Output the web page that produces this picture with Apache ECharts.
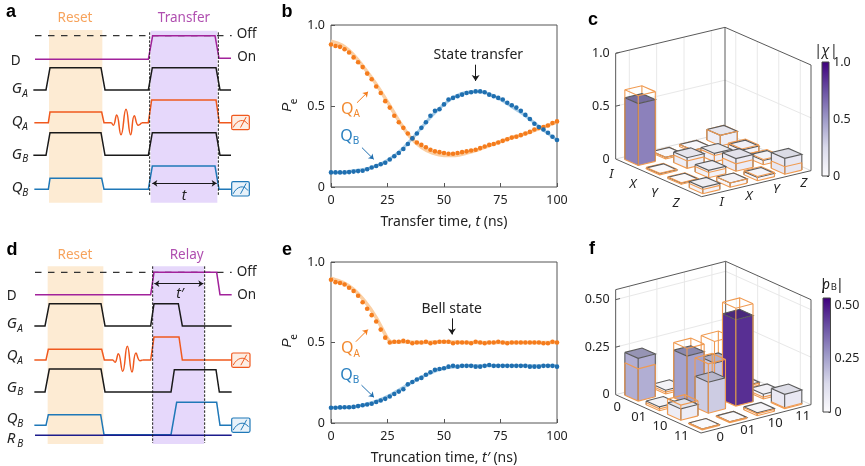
<!DOCTYPE html>
<html><head><meta charset="utf-8">
<style>html,body{margin:0;padding:0;background:#fff}#c{width:865px;height:466px}</style>
<script src="https://cdn.jsdelivr.net/npm/echarts@6/dist/echarts.min.js"></script>
</head><body><div id="c"></div>
<script>
var FONT='"Noto Sans",sans-serif';
var tNs=[0,2,4,6,8,10,12,14,16,18,20,22,24,26,28,30,32,34,36,38,40,42,44,46,48,50,52,54,56,58,60,62,64,66,68,70,72,74,76,78,80,82,84,86,88,90,92,94,96,98,100];
var bQA=[.88,.87,.865,.85,.83,.80,.77,.74,.70,.665,.62,.58,.53,.49,.44,.40,.365,.33,.30,.275,.26,.245,.23,.22,.215,.21,.205,.205,.21,.215,.22,.225,.23,.24,.25,.26,.265,.275,.285,.295,.305,.31,.32,.33,.34,.355,.365,.37,.38,.395,.405];
var bQB=[.09,.09,.09,.09,.092,.095,.098,.10,.11,.12,.13,.14,.15,.17,.19,.21,.235,.265,.30,.33,.365,.40,.44,.47,.48,.51,.54,.55,.56,.57,.58,.585,.59,.59,.585,.57,.56,.55,.54,.52,.505,.49,.47,.445,.42,.39,.37,.355,.335,.31,.29];
var eQA=[.89,.875,.87,.86,.84,.82,.79,.75,.71,.67,.63,.58,.53,.50,.505,.505,.51,.505,.495,.50,.50,.505,.495,.50,.505,.505,.505,.495,.50,.50,.50,.495,.505,.50,.495,.50,.50,.505,.50,.495,.50,.50,.50,.50,.50,.50,.50,.495,.495,.505,.50];
var eQB=[.095,.095,.097,.098,.098,.10,.105,.11,.115,.12,.13,.14,.15,.165,.18,.195,.21,.24,.255,.27,.28,.30,.315,.33,.335,.34,.35,.355,.35,.355,.355,.355,.35,.35,.355,.36,.355,.355,.355,.355,.355,.355,.355,.355,.35,.35,.35,.355,.355,.355,.35];
var fitBT=[0,5,10,15,20,25,30,35,40,45,50,55,60,65,70,75,80,85,90,95,100];
var fitBQA=[.90,.875,.815,.73,.635,.525,.41,.31,.245,.21,.195,.195,.21,.23,.255,.28,.305,.325,.35,.375,.40];
var fitBQB=[.09,.09,.10,.11,.13,.165,.215,.285,.365,.445,.51,.56,.585,.59,.575,.54,.495,.45,.395,.34,.29];
var fitET=[0,5,10,15,20,25,27,30,40,50,60,70,80,90,100];
var fitEQA=[.90,.875,.83,.755,.655,.525,.50,.505,.50,.505,.50,.50,.50,.50,.50];
var fitEQB=[.095,.097,.10,.115,.135,.165,.18,.205,.285,.34,.355,.355,.355,.355,.355];

var axisCats=['I','X','Y','Z'];
var rhoCats=['0','01','10','11'];
var chiMeasured=[[.585,.015,.02,.10],[.01,.10,.08,.05],[.01,.07,.12,.04],[.06,.04,.03,.15]];
var chiIdeal=[[.66,.015,.02,.10],[.015,.07,.06,.06],[.015,.05,.07,.05],[.04,.04,.04,.07]];
var rhoMeasured=[[.225,.02,.015,.01],[.02,.25,.175,.015],[.06,.163,.455,.025],[.005,.005,.015,.075]];
var rhoIdeal=[[.17,.01,.01,.01],[.01,.29,.29,.01],[.08,.26,.515,.01],[.005,.005,.01,.005]];
var purples=['#fcfbfd','#dadaeb','#9e9ac8','#6a51a3','#3f007d'];

// pulse traces, in schematic units
var aOff=[[105,107],[695,107]];
var aD=[[105,178],[445,178],[458,107],[645,107],[657,175],[693,175]];
var aGA=[[100,270],[138,270],[150,203],[303,203],[315,270],[445,270],[457,203],[648,203],[660,270],[693,270]];
var aQA=[[103,368],[145,368],[150,336],[305,336],[312,368],[335,368]];
var aQA2=[[425,368],[445,368],[455,300],[648,300],[658,368],[693,368]];
var aWig=[[335,368],[340,376],[350,345],[363,404],[378,328],[392,404],[403,347],[415,376],[425,368]];
var aGB=[[100,466],[138,466],[150,398],[303,398],[315,466],[445,466],[457,398],[648,398],[660,466],[693,466]];
var aQB=[[103,568],[145,568],[150,535],[305,535],[312,568],[445,568],[457,498],[645,498],[657,568],[693,568]];
var dOff=[[105,118],[695,118]];
var dD=[[105,185],[452,185],[462,118],[650,118],[660,185],[695,185]];
var dGA=[[103,279],[135,279],[148,212],[303,212],[315,279],[452,279],[462,212],[535,212],[547,279],[695,279]];
var dQA=[[103,381],[138,381],[145,349],[305,349],[313,381],[340,381]];
var dQA2=[[428,381],[452,381],[462,312],[537,312],[547,381],[695,381]];
var dWig=[[340,381],[345,388],[355,362],[368,415],[382,340],[396,417],[408,360],[420,383],[428,381]];
var dGB=[[103,477],[135,477],[148,408],[303,408],[315,477],[513,477],[523,410],[648,410],[658,477],[695,477]];
var dQB=[[103,577],[138,577],[145,545],[302,545],[312,605],[513,605],[530,508],[650,508],[660,577],[695,577]];
var dRB=[[105,607],[695,607]];

var C={black:'#1a1a1a',purple:'#a2229b',qa:'#f0591e',qb:'#1f78b8',orange:'#f57c1c',blue:'#1f6fb0',navy:'#1c1c8c',frame:'#5a5a5a',grid:'#e8e8e8',ideal:'#f09a50',txt:'#222'};

var series=[];
function rectS(g,x0,y0,x1,y1,color){series.push({type:'custom',xAxisIndex:g,yAxisIndex:g,z:1,silent:true,data:[[x0,y0,x1,y1]],renderItem:function(p,api){var a=api.coord([api.value(0),api.value(1)]),b=api.coord([api.value(2),api.value(3)]);return{type:'rect',shape:{x:a[0],y:a[1],width:b[0]-a[0],height:b[1]-a[1]},style:{fill:color}}}})}
function lineS(g,data,color,w,opt){opt=opt||{};series.push({type:'line',xAxisIndex:g,yAxisIndex:g,z:opt.z||3,silent:true,showSymbol:false,symbol:'none',smooth:opt.smooth||false,data:data,lineStyle:{color:color,width:w,type:opt.type||'solid',cap:'butt',join:'miter'}})}
function arrowS(g,p,q,color,both,size){series.push({type:'line',xAxisIndex:g,yAxisIndex:g,z:6,silent:true,symbol:'none',data:[],markLine:{silent:true,animation:false,symbol:[both?'arrow':'none','arrow'],symbolSize:size||6,label:{show:false},lineStyle:{color:color,width:1,type:'solid'},data:[[{coord:p},{coord:q}]]}})}
function iconS(g,x,y,w,h,color,fill){series.push({type:'custom',xAxisIndex:g,yAxisIndex:g,z:5,silent:true,data:[[x,y,w,h]],renderItem:function(p,api){var X=api.value(0),Y=api.value(1),W=api.value(2),H=api.value(3);var c=function(u,v){return api.coord([X+u*W,Y+v*H])};var a=c(0,0),b=c(1,1),p0=c(.08,.85),p1=c(.3,.3),p2=c(.7,.2),p3=c(.92,.62),n0=c(.5,.85),n1=c(.82,.12);return{type:'group',children:[{type:'rect',shape:{x:a[0],y:a[1],width:b[0]-a[0],height:b[1]-a[1],r:1.5},style:{fill:fill,stroke:color,lineWidth:1.2}},{type:'bezierCurve',shape:{x1:p0[0],y1:p0[1],cpx1:p1[0],cpy1:p1[1],cpx2:p2[0],cpy2:p2[1],x2:p3[0],y2:p3[1]},style:{fill:'none',stroke:color,lineWidth:1}},{type:'line',shape:{x1:n0[0],y1:n0[1],x2:n1[0],y2:n1[1]},style:{stroke:color,lineWidth:1}}]}}})}

// panel a
rectS(0,147,90,307,608,'#fdebd3');rectS(0,452,92,652,608,'#e6d8fb');
lineS(0,aOff,'#333',1.2,{type:[6.5,6.5]});
lineS(0,aD,C.purple,1.5);lineS(0,aGA,C.black,1.5);lineS(0,aQA,C.qa,1.5);lineS(0,aQA2,C.qa,1.5);lineS(0,aWig,C.qa,1.5,{smooth:.5});lineS(0,aGB,C.black,1.5);lineS(0,aQB,C.qb,1.5);
lineS(0,[[449,97],[449,585]],C.black,1,{type:[2.5,1.5],z:4});lineS(0,[[655,97],[655,585]],C.black,1,{type:[2.5,1.5],z:4});
arrowS(0,[457,550],[650,550],C.black,true,5);
iconS(0,695,346,53,43,C.qa,'#fdeee4');iconS(0,695,545,53,43,C.qb,'#e8f2fa');
// panel d
rectS(1,143,100,310,633,'#fdebd3');rectS(1,458,100,612,633,'#e6d8fb');
lineS(1,dOff,'#333',1.2,{type:[6.5,6.5]});
lineS(1,dD,C.purple,1.5);lineS(1,dGA,C.black,1.5);lineS(1,dQA,C.qa,1.5);lineS(1,dQA2,C.qa,1.5);lineS(1,dWig,C.qa,1.5,{smooth:.5});lineS(1,dGB,C.black,1.5);lineS(1,dQB,C.qb,1.5);lineS(1,dRB,C.navy,1.5);
lineS(1,[[458,100],[458,630]],C.black,1,{type:[2.5,1.5],z:4});lineS(1,[[614,100],[614,630]],C.black,1,{type:[2.5,1.5],z:4});
arrowS(1,[463,152],[610,152],C.black,true,5);
iconS(1,695,360,55,43,C.qa,'#fdeee4');iconS(1,695,555,55,43,C.qb,'#e8f2fa');

function zip(x,y){return x.map(function(v,i){return[v,y[i]]})}
function dots(g,data,color){series.push({type:'scatter',xAxisIndex:g,yAxisIndex:g,z:4,silent:true,symbolSize:4.6,data:data,itemStyle:{color:color,opacity:1}})}
lineS(2,zip(fitBT,fitBQA),'#fbcfa3',3.5,{smooth:.4});lineS(2,zip(fitBT,fitBQB),'#a9cde6',3,{smooth:.4});
dots(2,zip(tNs,bQA),C.orange);dots(2,zip(tNs,bQB),C.blue);
arrowS(2,[11.5,.52],[16.4,.588],C.orange,false,5);arrowS(2,[13.7,.243],[18.9,.171],C.blue,false,5);arrowS(2,[64,.755],[64,.655],C.black,false,6);
lineS(3,zip(fitET,fitEQA),'#fbcfa3',3.5,{smooth:.2});lineS(3,zip(fitET,fitEQB),'#a9cde6',3,{smooth:.2});
dots(3,zip(tNs,eQA),C.orange);dots(3,zip(tNs,eQB),C.blue);
arrowS(3,[11,.505],[16.3,.58],C.orange,false,5);arrowS(3,[13.5,.235],[19,.16],C.blue,false,5);arrowS(3,[53.5,.65],[53.5,.55],C.black,false,6);

// colour bars
function gradient(){return new echarts.graphic.LinearGradient(0,1,0,0,purples.map(function(c,i){return{offset:i/4,color:c}}))}
var cbC=[1],cbF=[.533];
series.push({type:'bar',xAxisIndex:4,yAxisIndex:4,barWidth:'100%',silent:true,data:cbC,itemStyle:{color:gradient()}});
series.push({type:'bar',xAxisIndex:5,yAxisIndex:5,barWidth:'100%',silent:true,data:cbF,itemStyle:{color:gradient()}});

// 3D panels
var cfgC={L:[122,477],U:[328,-78],V:[258,113],H:317,zMax:1,ticks:[.5,1],cmax:1,lx:-15,ly:11,rx:6.3,ry:9.3};
var cfgF={L:[122,485],U:[330,-85],V:[256,115],H:315,zMax:.5526,ticks:[.25,.5],cmax:.533,lx:-9,ly:8,rx:5.5,ry:7.8};
function project(cfg,a,b,z){return[cfg.L[0]+a*cfg.U[0]+b*cfg.V[0],cfg.L[1]+a*cfg.U[1]+b*cfg.V[1]-z/cfg.zMax*cfg.H]}
function hex2(c){return[parseInt(c.substr(1,2),16),parseInt(c.substr(3,2),16),parseInt(c.substr(5,2),16)]}
function cmap(t,dark){t=Math.max(0,Math.min(1,t));var k=dark?1-dark*Math.min(1,t*2.2):1;t*=4;var i=Math.min(3,Math.floor(t)),f=t-i,A=hex2(purples[i]),B=hex2(purples[i+1]);return'rgb('+A.map(function(v,n){return Math.round((v+(B[n]-v)*f)*k)}).join(',')+')'}
function walls(g,cfg){
  var P=function(a,b,z){return project(cfg,a,b,z)},T=cfg.zMax;
  [.125,.375,.625,.875].forEach(function(q){lineS(g,[P(q,0,0),P(q,0,T)],C.grid,1,{z:2});lineS(g,[P(1,q,0),P(1,q,T)],C.grid,1,{z:2})});
  cfg.ticks.forEach(function(z){if(z<T*.98){lineS(g,[P(0,0,z),P(1,0,z),P(1,1,z)],C.grid,1,{z:2})}
    lineS(g,[P(0,0,z),P(.04,0,z)],C.frame,1,{z:3})});
  lineS(g,[P(0,0,0),P(0,0,T),P(1,0,T),P(1,1,T),P(1,1,0),P(0,1,0),P(0,0,0)],C.frame,1,{z:3});
  lineS(g,[P(1,0,T),P(1,0,0)],C.frame,1,{z:3});
  lineS(g,[P(1,0,0),P(0,0,0)],'#ddd',1,{z:2});lineS(g,[P(1,0,0),P(1,1,0)],'#ddd',1,{z:2});
}
function bars(g,cfg,meas,ideal){
  var rows=[];for(var j=0;j<4;j++)for(var i=3;i>=0;i--)rows.push([i,j,meas[j][i],ideal[j][i]]);
  series.push({type:'custom',xAxisIndex:g,yAxisIndex:g,z:5,silent:true,clip:false,data:rows,renderItem:function(p,api){
    var i=api.value(0),j=api.value(1),m=api.value(2),d=api.value(3),w=.156,a0=i*.25+.047,a1=a0+w,b0=j*.25+.047,b1=b0+w;
    var P=function(a,b,z){return api.coord(project(cfg,a,b,z))};
    var col=cmap(m/cfg.cmax),top=cmap(m/cfg.cmax,.16),E=C.frame,O=C.ideal;
    var pl=function(pts,c,w2){return{type:'polyline',shape:{points:pts},style:{fill:'none',stroke:c,lineWidth:w2||1.1}}};
    var pg=function(pts,f){return{type:'polygon',shape:{points:pts},style:{fill:f}}};
    return{type:'group',children:[
      pl([P(a1,b0,0),P(a1,b0,d)],O),
      pl([P(a0,b0,d),P(a1,b0,d),P(a1,b1,d)],O),
      pg([P(a0,b0,0),P(a0,b1,0),P(a0,b1,m),P(a0,b0,m)],col),
      pg([P(a0,b1,0),P(a1,b1,0),P(a1,b1,m),P(a0,b1,m)],col),
      pg([P(a0,b0,m),P(a0,b1,m),P(a1,b1,m),P(a1,b0,m)],top),
      pl([P(a0,b0,0),P(a0,b0,m)],E),pl([P(a0,b1,0),P(a0,b1,m)],E),pl([P(a1,b1,0),P(a1,b1,m)],E),
      pl([P(a0,b0,m),P(a0,b1,m),P(a1,b1,m),P(a1,b0,m),P(a0,b0,m)],E),
      pl([P(a0,b0,0),P(a0,b1,0),P(a1,b1,0)],O),
      pl([P(a0,b0,d),P(a0,b1,d),P(a1,b1,d)],O),
      pl([P(a0,b0,0),P(a0,b0,d)],O),pl([P(a0,b1,0),P(a0,b1,d)],O),pl([P(a1,b1,0),P(a1,b1,d)],O)
    ]}
  }});
}
walls(6,cfgC);walls(7,cfgF);
bars(6,cfgC,chiMeasured,chiIdeal);bars(7,cfgF,rhoMeasured,rhoIdeal);

// text
var gfx=[];
function txt(x,y,s,o){o=o||{};gfx.push({type:'text',x:x,y:y,rotation:o.rot||0,z:100,silent:true,style:{text:s,fill:o.color||C.txt,font:(o.italic?'italic ':'')+(o.bold?'bold ':'')+(o.size||13.5)+'px '+(o.family||FONT),align:o.align||'center',verticalAlign:'middle',textAlign:o.align||'center',textVerticalAlign:'middle'}})}
function sym(ox,oy,zx,zy,main,sub,o){o=o||{};var x=ox+zx/3,y=oy+zy/3;txt(x,y,main,{align:'left',italic:o.italic,color:o.color,size:o.size||15});txt(x+(o.dx||10.5),y+(o.dy||5),sub,{align:'left',italic:o.italicSub,color:o.color,size:o.subSize||10})}
var S=function(ox,oy,zx,zy,s,o){txt(ox+zx/3,oy+zy/3,s,o)};
// panel letters
[['a',11,12],['b',287,12],['c',593,20],['d',12,250],['e',287,250],['f',592,249]].forEach(function(l){txt(l[1],l[2],l[0],{bold:true,size:18,color:'#000',family:'"Liberation Sans",sans-serif'})});
// a
S(0,0,225,53,'Reset',{color:'#f7a35c',size:13.5});S(0,0,552,53,'Transfer',{color:'#b04fb0',size:13.5});
S(0,0,740,103,'Off');S(0,0,740,172,'On');S(0,0,47,183,'D');
var it={italic:true,italicSub:true};
sym(0,0,35,266,'G','A',it);sym(0,0,35,365,'Q','A',it);sym(0,0,35,463,'G','B',it);sym(0,0,35,563,'Q','B',it);
S(0,0,552,587,'t',{italic:true,size:14});
// d
S(0,233,225,67,'Reset',{color:'#f7a35c',size:13.5});S(0,233,560,67,'Relay',{color:'#b04fb0',size:13.5});
S(0,233,740,118,'Off');S(0,233,740,187,'On');S(0,233,35,190,'D');
sym(0,233,20,272,'G','A',it);sym(0,233,20,368,'Q','A',it);sym(0,233,20,463,'G','B',it);sym(0,233,20,558,'Q','B',it);sym(0,233,20,618,'R','B',it);
S(0,233,540,183,"t′",{italic:true,size:14});
// b, e annotations
S(275,0,610,165,'State transfer',{size:14});S(275,233,530,227,'Bell state',{size:14});
var qo={color:'#f28a30',size:16,dx:12.5,dy:5,subSize:10},qb={color:'#2a80c0',size:16,dx:12.5,dy:5,subSize:10};
sym(275,0,198,327,'Q','A',qo);sym(275,0,196,408,'Q','B',qb);sym(275,233,198,347,'Q','A',qo);sym(275,233,196,427,'Q','B',qb);
[[0,322],[233,330]].forEach(function(v){txt(287,v[0]+v[1]/3,'P',{italic:true,size:13.5,rot:Math.PI/2,family:'"Liberation Sans",sans-serif'});txt(294,v[0]+v[1]/3-6,'e',{size:10,rot:Math.PI/2})});
// 3D labels
function labels3d(ox,oy,cfg,cats,tickFmt){
  cats.forEach(function(c,i){var q=(i+.5)/4;
    var l=project(cfg,0,q,0),r=project(cfg,q,1,0),it=c.length===1&&isNaN(+c);
    txt(ox+l[0]/3+cfg.lx,oy+l[1]/3+cfg.ly,c,{italic:it,size:13});
    txt(ox+r[0]/3+cfg.rx,oy+r[1]/3+cfg.ry,c,{italic:it,size:13});
  });
  [0].concat(cfg.ticks).forEach(function(z){var p=project(cfg,0,0,z);txt(ox+p[0]/3-6,oy+p[1]/3,tickFmt(z),{align:'right',size:12.5})});
}
labels3d(575,0,cfgC,axisCats,function(z){return z===0?'0':z.toFixed(1)});
labels3d(575,233,cfgF,rhoCats,function(z){return z===0?'0':z.toFixed(2)});
S(575,0,752,152,'|χ|',{italic:true,size:14});
S(575,233,733,155,'|',{size:15,align:'left'});S(575,233,742,155,'ρ',{italic:true,size:14,align:'left'});S(575,233,767,163,'B',{size:9.5,align:'left'});S(575,233,782,155,'|',{size:15,align:'left'});

// axes
function hide(i,min,max,inv){return{gridIndex:i,type:'value',min:min,max:max,inverse:!!inv,show:false,splitLine:{show:false}}}
var axisStyle={axisLine:{show:false},splitLine:{show:false},axisTick:{inside:true,length:4,lineStyle:{color:'#555'}}};
function plotX(i,name){return Object.assign({gridIndex:i,type:'value',min:0,max:100,interval:25,name:name,nameLocation:'middle',nameGap:28,nameTextStyle:{color:C.txt,fontSize:14,fontFamily:FONT,rich:{i:{fontStyle:'italic',fontSize:14,fontFamily:FONT,color:C.txt}}}},axisStyle,{axisLabel:{color:C.txt,fontSize:12.5,fontFamily:FONT,margin:7}})}
function plotY(i){return Object.assign({gridIndex:i,type:'value',min:0,max:1,interval:.5},axisStyle,{axisLabel:{color:C.txt,fontSize:12.5,fontFamily:FONT,margin:6,formatter:function(v){return v===0?'0':v.toFixed(1)}}})}
function cbX(i){return{gridIndex:i,type:'category',data:[''],show:false}}
function cbY(i,max,intv,dec){return{gridIndex:i,type:'value',position:'right',min:0,max:max,interval:intv,axisLine:{show:false},splitLine:{show:false},axisTick:{show:true,inside:true,length:2,lineStyle:{color:'#444'}},axisLabel:{color:C.txt,fontSize:12.5,fontFamily:FONT,margin:4,showMaxLabel:max===1,formatter:function(v){return v===0?'0':v.toFixed(dec)}}}}
var opt={animation:false,backgroundColor:'#fff',
 grid:[
  {left:0,top:0,width:280,height:233},
  {left:0,top:233,width:280,height:233},
  {left:331,top:25,width:226,height:162,show:true,borderColor:'#555',borderWidth:1,backgroundColor:'transparent'},
  {left:331,top:262,width:226,height:162,show:true,borderColor:'#555',borderWidth:1,backgroundColor:'transparent'},
  {left:822,top:62,width:7,height:114,show:true,borderColor:'#444',borderWidth:1,z:10},
  {left:823,top:298,width:7.5,height:114,show:true,borderColor:'#444',borderWidth:1,z:10},
  {left:575,top:0,width:290,height:233},
  {left:575,top:233,width:290,height:233}
 ],
 xAxis:[hide(0,0,840),hide(1,0,840),plotX(2,'Transfer time, {i|t} (ns)'),plotX(3,"Truncation time, {i|t′} (ns)"),cbX(4),cbX(5),hide(6,0,870),hide(7,0,870)],
 yAxis:[hide(0,0,699,true),hide(1,0,699,true),plotY(2),plotY(3),cbY(4,1,.5,1),cbY(5,.533,.25,2),hide(6,0,699,true),hide(7,0,699,true)],
 series:series,graphic:{elements:gfx}};
var chart=echarts.init(document.getElementById('c'),null,{renderer:'canvas'});
chart.setOption(opt);
</script></body></html>
